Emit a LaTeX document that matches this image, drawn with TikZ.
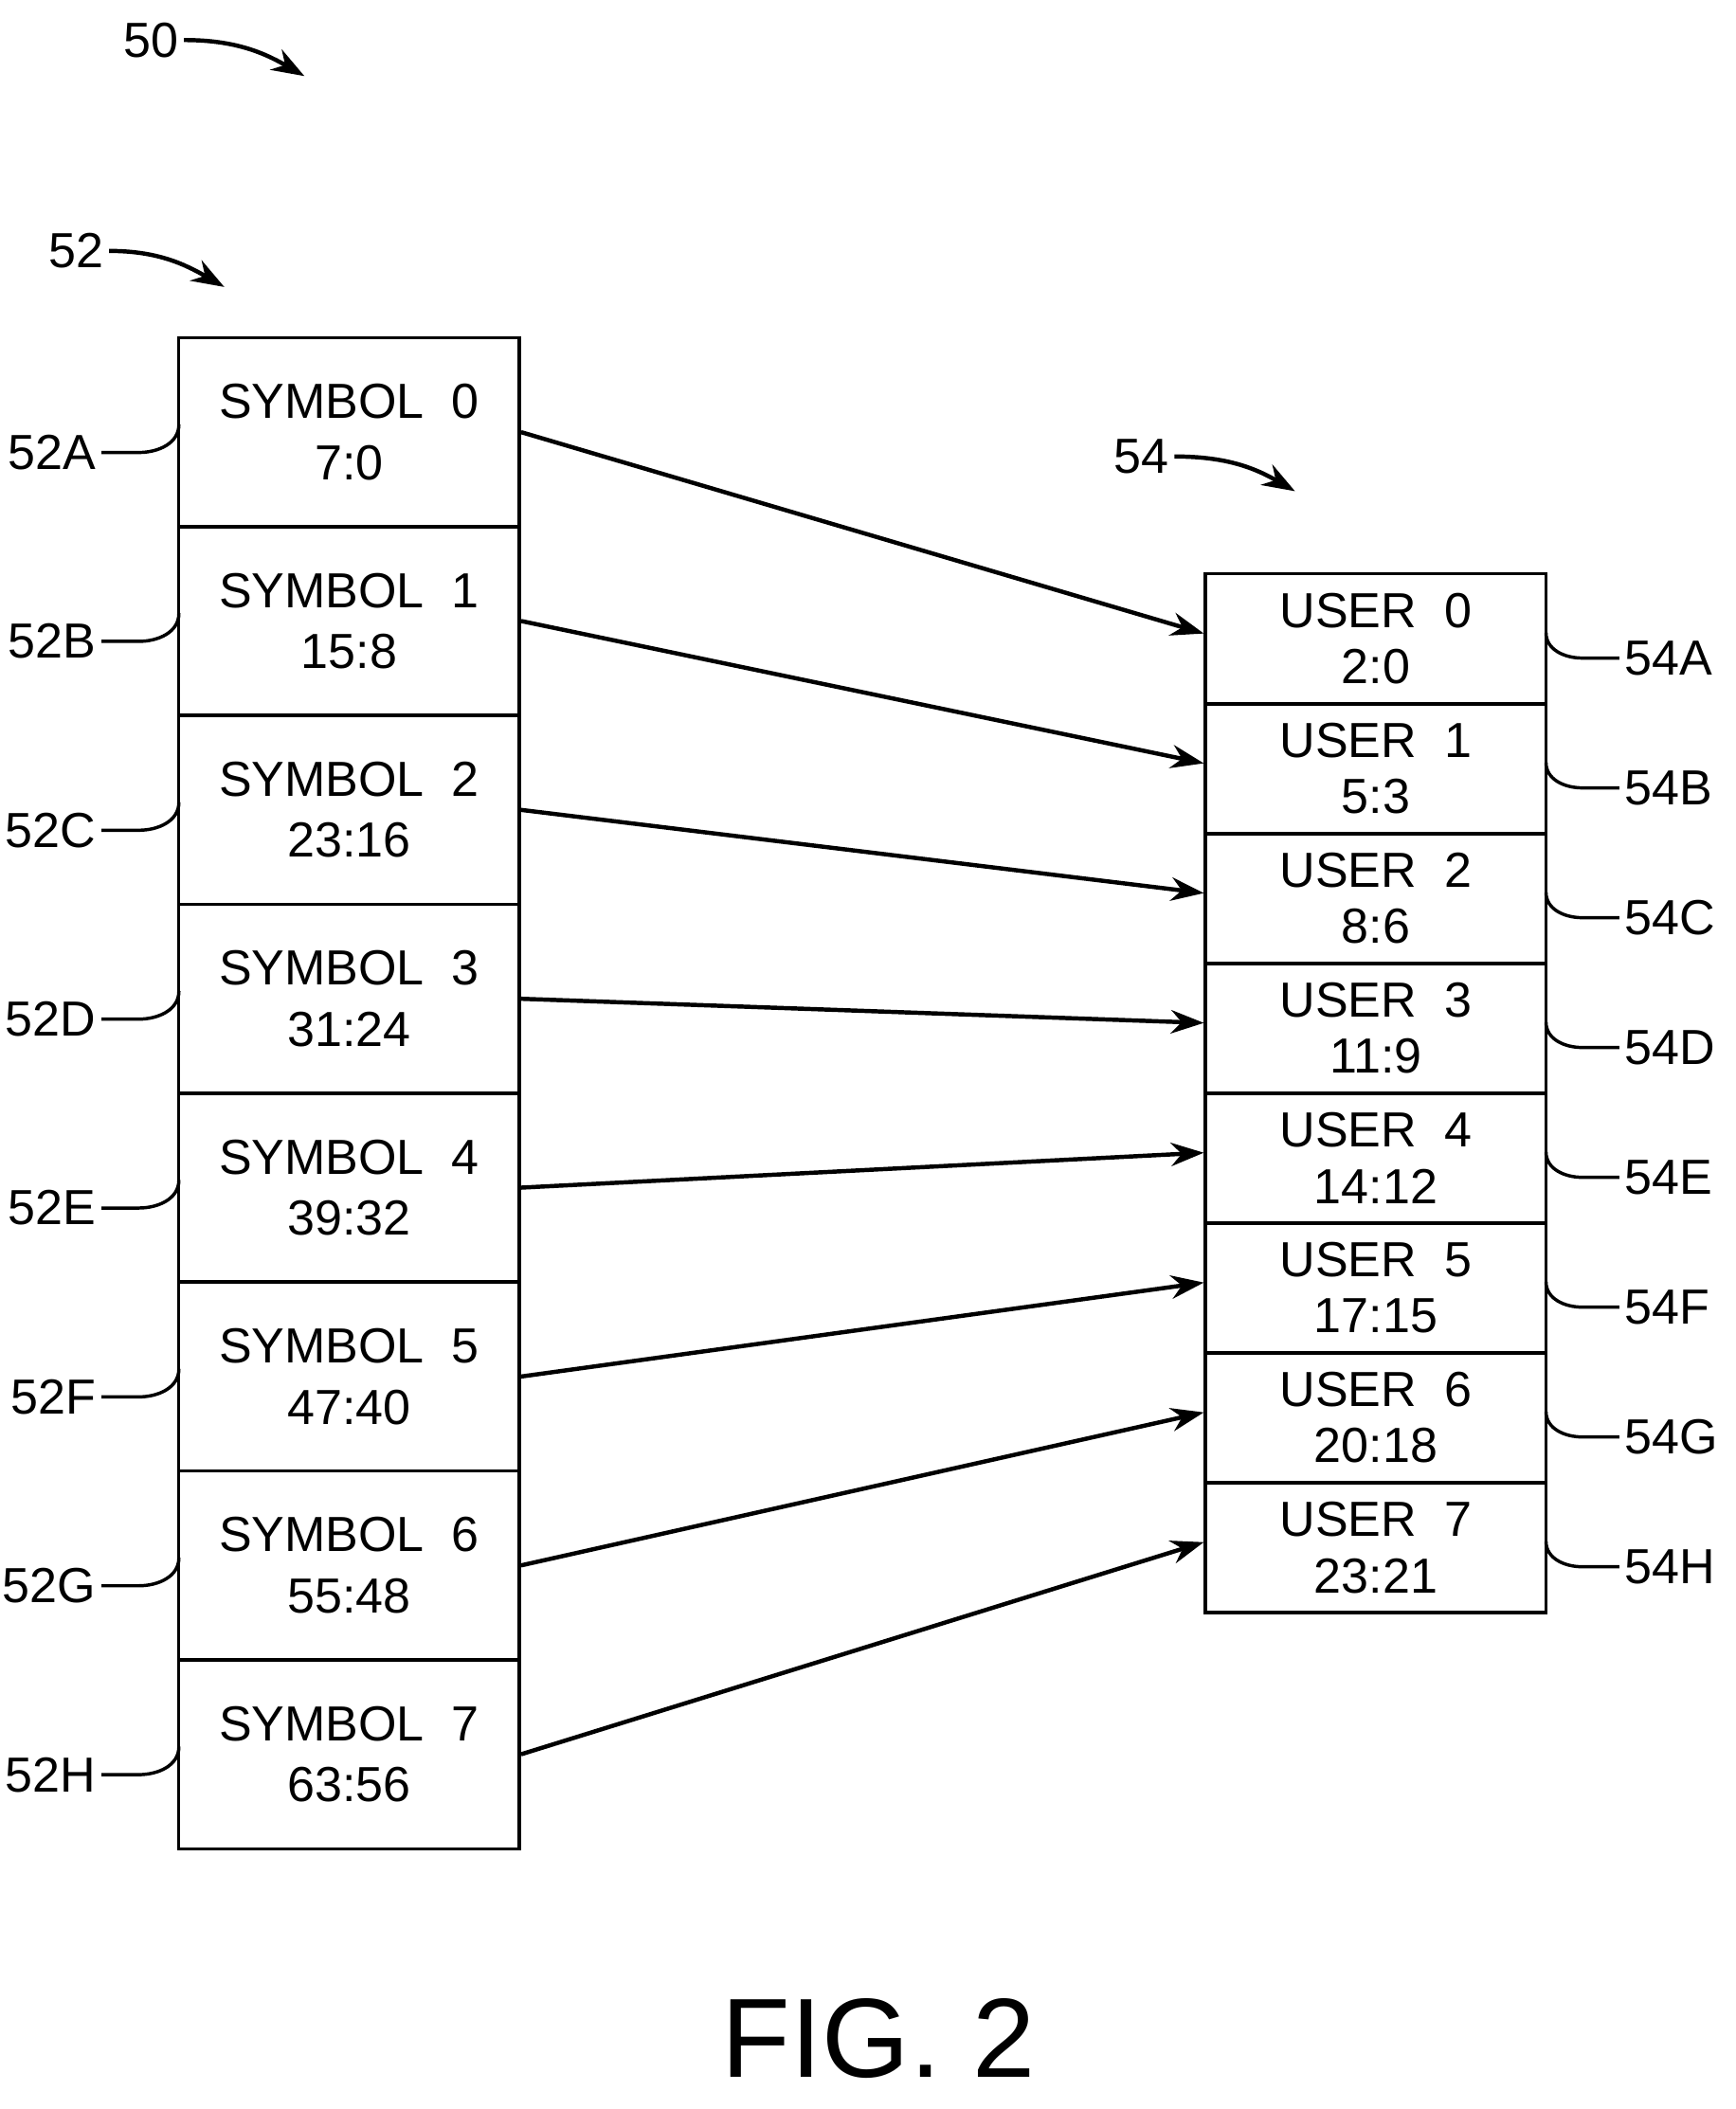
\documentclass[tikz,border=0pt]{standalone}
\usepackage{fontspec}
\setmainfont{Liberation Sans}
\usetikzlibrary{arrows.meta}
\tikzset{
  symbox/.style={draw, line width=0.7pt, minimum width=2.55cm, minimum height=1.415cm,
    inner sep=0pt, align=center, font=\fontsize{10.5}{13}\selectfont},
  userbox/.style={draw, line width=0.7pt, minimum width=2.55cm, minimum height=0.9725cm,
    inner sep=0pt, align=center, font=\fontsize{10.5}{12}\selectfont},
  map/.style={line width=0.9pt, -{Stealth[length=7pt,width=5pt]}},
  lead/.style={line width=0.7pt},
  ref/.style={inner sep=1pt, font=\fontsize{10.5}{12}\selectfont}
}
\begin{document}
\begin{tikzpicture}[x=0.01cm,y=-0.01cm]
\useasboundingbox (0,0) rectangle (1300,1580);
% reference numerals
\node[ref] (n50) at (113,30) {50};
\coordinate (t50) at (228,57);
\draw[map] (n50.east) to[out=0,in=150] (t50);
\node[ref] (n52) at (57,188) {52};
\coordinate (t52) at (168,215);
\draw[map] (n52.east) to[out=0,in=150] (t52);
\node[ref] (n54) at (855,342) {54};
\coordinate (t54) at (970,368);
\draw[map] (n54.east) to[out=0,in=150] (t54);
% symbol boxes
\foreach \i/\bits/\l in {0/7:0/A,1/15:8/B,2/23:16/C,3/31:24/D,4/39:32/E,5/47:40/F,6/55:48/G,7/63:56/H} {
  \node[symbox] (s\i) at (261.5,{323.75+141.5*\i}) {SYMBOL~~\i\\\bits};
  \node[ref, anchor=east] (ls\i) at (76,{339+141.5*\i}) {52\l};
  \coordinate (ss\i) at (134,{318+141.5*\i});
  \draw[lead] (ls\i.east) -- ++(28,0) to[out=0,in=-90] (ss\i);
}
% user boxes
\foreach \i/\bits/\l in {0/2:0/A,1/5:3/B,2/8:6/C,3/11:9/D,4/14:12/E,5/17:15/F,6/20:18/G,7/23:21/H} {
  \node[userbox] (u\i) at (1030.5,{478.6+97.25*\i}) {USER~~\i\\\bits};
  \node[ref, anchor=west] (lu\i) at (1213,{493+97.25*\i}) {54\l};
  \coordinate (uu\i) at (1158,{474+97.25*\i});
  \draw[lead] (lu\i.west) -- ++(-28,0) to[out=180,in=-90] (uu\i);
}
% mapping
\foreach \i in {0,...,7} {
  \draw[map] (s\i.east) -- ([yshift=0.04cm]u\i.west);
}
\node[font=\fontsize{24}{28}\selectfont] (fig) at (658,1527) {FIG. 2};
\end{tikzpicture}
\end{document}
